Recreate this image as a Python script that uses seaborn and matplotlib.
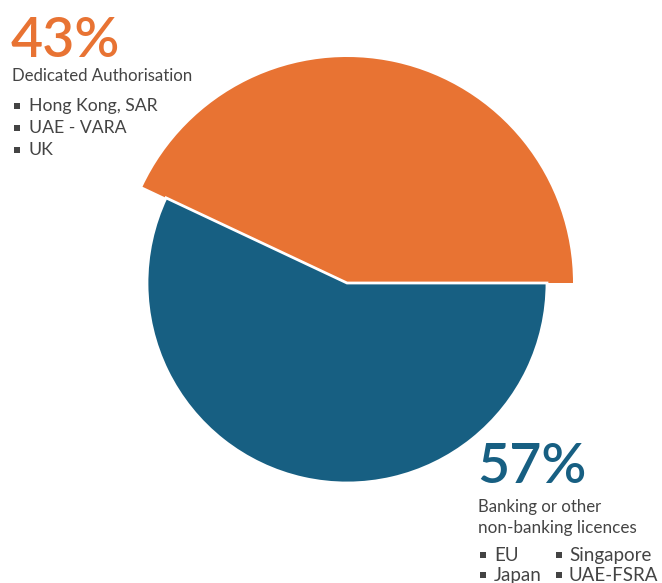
import matplotlib
matplotlib.use("Agg")
import matplotlib.pyplot as plt
import seaborn as sns

sns.set_theme(style="white")
plt.rcParams['font.family'] = ['Lato', 'DejaVu Sans']

# Data
labels = ["Dedicated Authorisation", "Banking or other non-banking licences"]
shares = [43, 57]
pct_labels = ["43%", "57%"]
dedicated_list = ["Hong Kong, SAR", "UAE - VARA", "UK"]
banking_col1 = ["EU", "Japan"]
banking_col2 = ["Singapore", "UAE-FSRA"]

ORANGE = "#E87333"
BLUE = "#175F82"
GREY = "#444444"

W, H = 662, 583
fig = plt.figure(figsize=(W / 100, H / 100), dpi=100)
ax = fig.add_axes([0, 0, 1, 1])

cx, cy = 347, H - 283
# Orange slice (larger radius)
w1, _ = ax.pie(shares, radius=226, center=(cx, cy), colors=[ORANGE, "none"],
               startangle=0, counterclock=True,
               wedgeprops=dict(edgecolor="none", linewidth=0))
# Blue slice
w2, _ = ax.pie(shares, radius=200, center=(cx, cy), colors=["none", BLUE],
               startangle=0, counterclock=True,
               wedgeprops=dict(edgecolor="white", linewidth=2))
w2[0].set_edgecolor("none")

ax.set_xlim(0, W)
ax.set_ylim(0, H)
ax.set_aspect("equal")
ax.axis("off")

def T(x, y, s, **kw):
    ax.text(x, H - y, s, va="baseline", ha="left", **kw)

def bullet(x, baseline, off=5.5):
    ax.scatter([x], [H - (baseline - off)], marker="s", s=15, color=GREY,
               linewidths=0, zorder=5)

BODY = 12.1
# Left block
T(11, 57, pct_labels[0], fontsize=40, color=ORANGE, fontweight="semibold")
T(12, 81, labels[0], fontsize=BODY, color=GREY)
for i, item in enumerate(dedicated_list):
    y = 111 + 22 * i
    bullet(16.5, y)
    T(29, y, item, fontsize=12.7, color=GREY)

# Right block
T(477, 483, pct_labels[1], fontsize=40, color=BLUE, fontweight="semibold")
T(478, 512, "Banking or other", fontsize=BODY, color=GREY)
T(478, 533, "non-banking licences", fontsize=12.3, color=GREY)
for i, (a, b) in enumerate(zip(banking_col1, banking_col2)):
    y = 561 + 20 * i
    bullet(482.5, y, 6)
    T(494, y, a, fontsize=13.5, color=GREY)
    bullet(558.5, y, 6)
    T(569, y, b, fontsize=13.5, color=GREY)

fig.savefig("out.png", dpi=100, facecolor="white")
